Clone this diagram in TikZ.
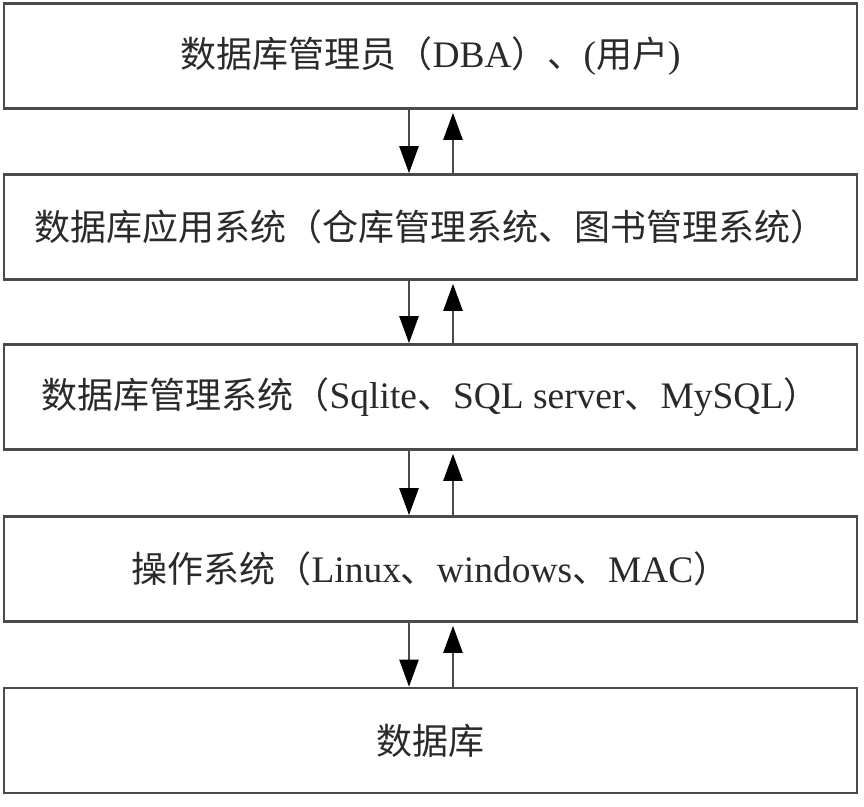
\documentclass[tikz,border=0pt]{standalone}
\usepackage{fontspec}
\setmainfont{Liberation Serif}[Scale=1.04]
\newfontfamily\zhfont{Noto Sans CJK SC}
\newcommand\zh[1]{{\zhfont #1}}
\usetikzlibrary{arrows.meta}
\definecolor{edgegray}{HTML}{4A4A4A}
\definecolor{txtgray}{HTML}{2A2A2A}
\begin{document}
\begin{tikzpicture}[x=1pt,y=1pt,
  layer/.style={draw=edgegray, line width=2.6pt, minimum width=853pt, minimum height=105pt,
    inner sep=0pt, text=txtgray, font=\fontsize{36}{42}\selectfont, anchor=center},
  arr/.style={draw=edgegray, line width=2.4pt, -{Triangle[length=27pt,width=19pt,fill=black,color=black]}}]
\useasboundingbox (0,0) rectangle (864,806);
\fill[white] (0,0) rectangle (864,806);
\node[layer] (b1) at (430.5,750) {\zh{数据库管理员（}DBA\zh{）、}(\zh{用户})};
\node[layer] (b2) at (430.5,579) {\zh{数据库应用系统（仓库管理系统、图书管理系统）}};
\node[layer] (b3) at (430.5,409) {\zh{数据库管理系统（}Sqlite\zh{、}SQL server\zh{、}MySQL\zh{）}};
\node[layer] (b4) at (430.5,237) {\zh{操作系统（}Linux\zh{、}windows\zh{、}MAC\zh{）}};
\node[layer] (b5) at (430.5,65.5) {\zh{数据库}};
\foreach \u/\l in {b1/b2,b2/b3,b3/b4,b4/b5}{
  \draw[arr] ([xshift=-21.5pt]\u.south) -- ([xshift=-21.5pt]\l.north);
  \draw[arr] ([xshift=22.5pt]\l.north) -- ([xshift=22.5pt,yshift=-3pt]\u.south);
}
\end{tikzpicture}
\end{document}
